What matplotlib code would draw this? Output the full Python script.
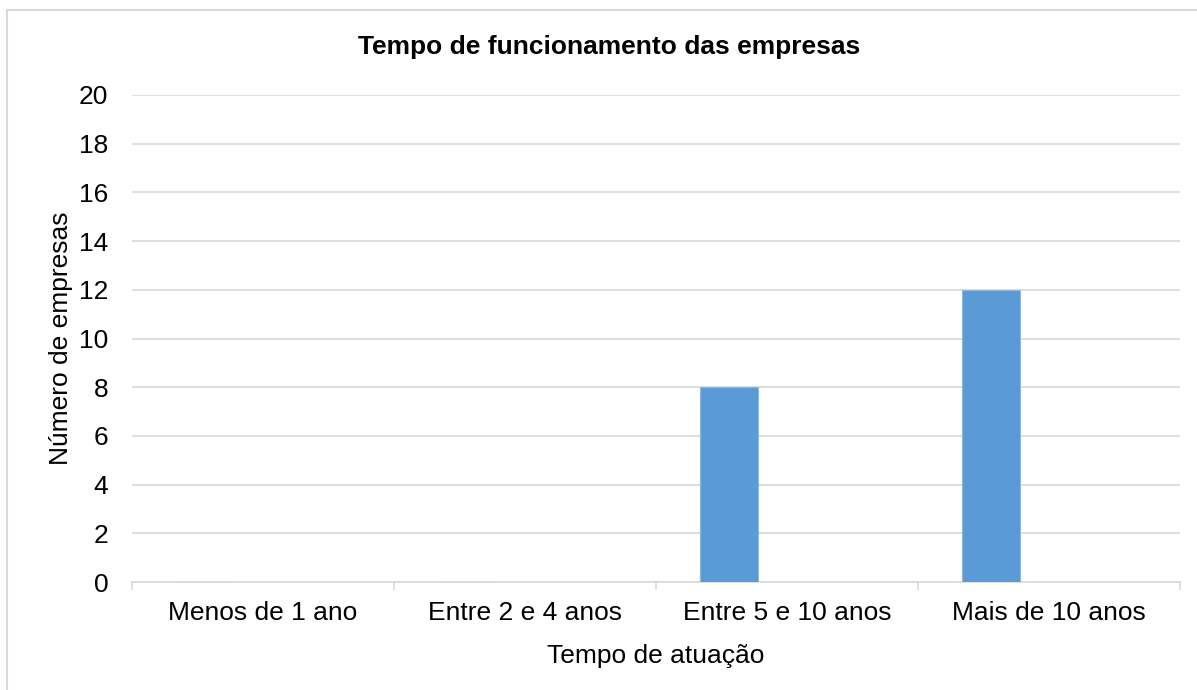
import matplotlib.pyplot as plt
import numpy as np
from matplotlib.patches import Rectangle

plt.rcParams['font.family'] = ['Liberation Sans', 'DejaVu Sans']

# data
categorias = ['Menos de 1 ano', 'Entre 2 e 4 anos', 'Entre 5 e 10 anos', 'Mais de 10 anos']
empresas = [0, 0, 8, 12]
serie_b = [0, 0, 0, 0]
serie_c = [0, 0, 0, 0]
y_ticks = list(range(0, 21, 2))

fig = plt.figure(figsize=(11.97, 6.90), dpi=100)
ax = fig.add_axes([132 / 1197, 1 - 582 / 690, (1180 - 132) / 1197, (582 - 95) / 690])

x = np.arange(len(categorias))
w = 58 / 262
ax.bar(x - w, empresas, width=w, color='#5B9BD5', edgecolor='#8DB7E0', linewidth=0.8, zorder=3)
ax.bar(x, serie_b, width=w, color='#ED7D31', linewidth=0, zorder=3)
ax.bar(x + w, serie_c, width=w, color='#A5A5A5', linewidth=0, zorder=3)

ax.set_xlim(-0.5, len(categorias) - 0.5)
ax.set_ylim(0, 20)
ax.set_yticks(y_ticks)
ax.set_yticklabels([str(v) for v in y_ticks], fontsize=19)
ax.yaxis.grid(True, color='#D9D9D9', linewidth=1.2, zorder=0)
ax.tick_params(axis='y', length=0, pad=17)

ax.set_xticks(x)
ax.set_xticklabels(categorias, fontsize=19)
ax.set_xticks(np.arange(-0.5, len(categorias)), minor=True)
ax.tick_params(axis='x', which='major', length=0, pad=14)
ax.tick_params(axis='x', which='minor', length=6, color='#D9D9D9', width=1.2)

for s in ['top', 'right', 'left']:
    ax.spines[s].set_visible(False)
ax.spines['bottom'].set_color('#D9D9D9')
ax.spines['bottom'].set_linewidth(1.2)

ax.set_xlabel('Tempo de atuação', fontsize=19, labelpad=13)
ax.set_ylabel('Número de empresas', fontsize=19, labelpad=4)
fig.text(609 / 1197, 1 - 47 / 690, 'Tempo de funcionamento das empresas',
         fontsize=19, fontweight='bold', ha='center', va='center')

fig.patches.append(Rectangle((7 / 1197, -10 / 690), 1200 / 1197, 690 / 690,
                             transform=fig.transFigure, fill=False,
                             edgecolor='#D9D9D9', linewidth=1.5))

fig.savefig('out.png', dpi=100)
